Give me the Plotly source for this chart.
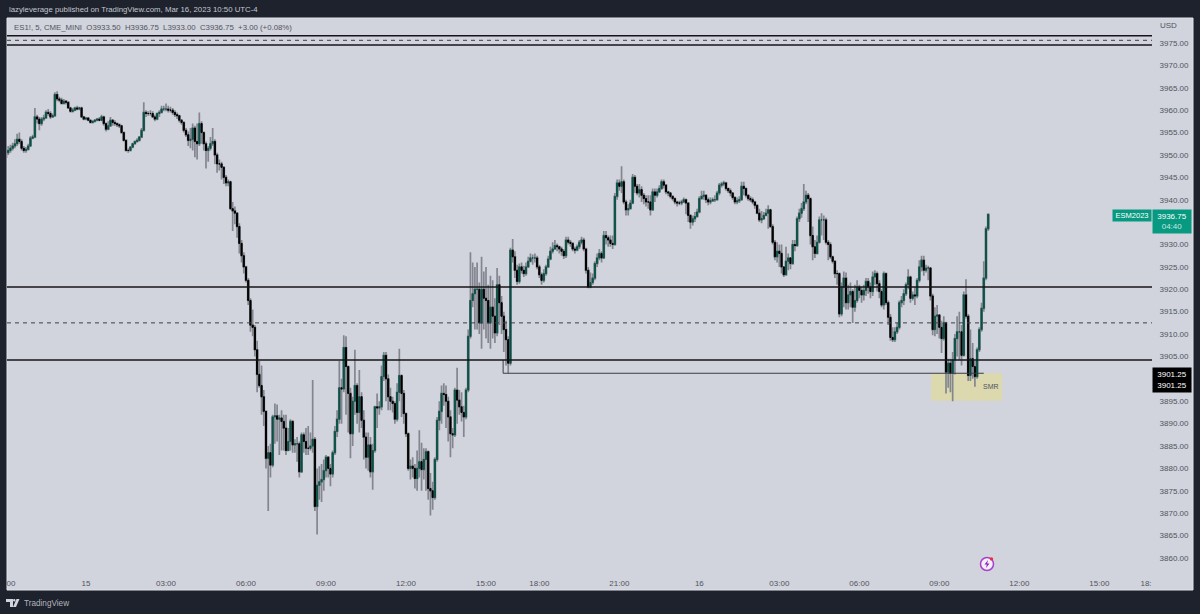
import plotly.graph_objects as go

# ES1! 5 min bars, 21:00 Mar 14 to 10:50 Mar 16 (one row per hour)
opens = [
    3949.5,3950.5,3951,3951.5,3952,3952.5,3953.5,3953,3951.5,3951,3951.25,3952,
    3953.75,3954,3958.5,3958,3957,3958,3958.25,3959.5,3959.25,3958.5,3958.75,3963.5,
    3962.5,3962.25,3961.5,3962,3961.75,3960.5,3959.75,3960,3960.5,3960.25,3960.5,3958.5,
    3958,3958.25,3957.75,3957.25,3957.5,3957.75,3958,3957.75,3958.5,3957,3955.75,3956.5,
    3957.75,3957.25,3957,3956.75,3956.5,3955,3953.25,3951,3951,3951.75,3952.5,3953,
    3953.25,3954,3955.5,3959.5,3959.25,3959.25,3959.25,3958.5,3958,3959.25,3959.5,3960.25,
    3960.25,3960.25,3960,3960,3959.5,3959,3958.75,3957.75,3957.25,3955.5,3954.5,3953.25,
    3953.5,3956,3953,3952.5,3957,3955,3952.5,3951,3951.5,3952.5,3953,3950,
    3948,3948,3947.25,3945,3943.75,3944,3938,3937.5,3937,3934,3930.25,3927.5,
    3925,3922,3917.5,3912,3911.5,3906.5,3901,3898.5,3896,3892.75,3882.25,3883.5,
    3880.75,3891.5,3891.75,3891,3891.25,3890.5,3889,3884,3886,3890.5,3885.25,3885.5,
    3885.5,3879.25,3887.5,3886,3884.5,3884.5,3885,3886.5,3871.5,3876.25,3877,3877.5,
    3879.5,3882.5,3880,3878.75,3883.5,3888.25,3891,3898,3897.75,3907,3902.75,3896.75,
    3887.75,3895,3898.5,3892.5,3896,3890.75,3887,3882.5,3885.25,3879.25,3884,3893.75,
    3893.5,3893.75,3900.5,3905.25,3900,3896,3895,3894.5,3891,3897,3900.75,3896.75,
    3892.25,3887.75,3880,3880.5,3880,3877.75,3880,3881.5,3879.75,3882,3883.75,3875.5,
    3875,3873.5,3882,3890.75,3892.75,3896.75,3896.5,3895,3891.5,3887.75,3887.5,3897.5,
    3895.25,3893.75,3892.5,3891.5,3897.5,3909.5,3917.5,3919,3920,3920,3912.5,3920,
    3918,3917.5,3912.5,3916,3914,3910.25,3921,3917,3914,3911,3908.75,3903.5,
    3928.75,3927.25,3924.25,3921.75,3925,3924.25,3923.5,3925,3926.25,3927,3927,3927,
    3925,3923.25,3922,3923.5,3925,3926.75,3928.5,3929,3929.75,3929.5,3929,3928.5,
    3927.5,3931,3930.5,3930.25,3929,3928.75,3929.5,3930.5,3931,3929,3924.25,3920.5,
    3921.5,3922.5,3925.75,3927,3928,3927,3932,3931.5,3931,3930.25,3930,3940.75,
    3943.75,3943,3944,3939.5,3937.75,3938,3939.25,3945,3943,3941.5,3942.25,3941,
    3940.25,3939.5,3939.5,3937.75,3941.75,3941,3941.75,3942.5,3944,3943.25,3941.75,3941.5,
    3940.75,3940.25,3939.5,3939.25,3939.25,3939.5,3940,3939.25,3936.5,3935,3935.75,3936.25,
    3937.25,3940.25,3940.75,3941,3940,3939.5,3939.75,3940,3940,3941.5,3943.25,3943.5,
    3943.75,3942.5,3942,3941.5,3940.5,3939.5,3939.75,3940,3943,3942.5,3941,3940.25,
    3940,3939.5,3938.75,3937,3935.5,3935.75,3936.5,3937,3937.75,3934,3930.5,3927.25,
    3928.5,3928,3925,3923.25,3926.25,3927,3925.75,3930,3929.75,3935.75,3937,3938,
    3939.5,3941,3940.25,3932,3929.5,3928,3930.5,3935.5,3935.5,3935.5,3930.5,3930,
    3927.25,3926.25,3923.5,3923.5,3914.5,3920.5,3922.5,3917,3918.75,3919.5,3916,3917.5,
    3920.5,3919.75,3918.75,3919.75,3921.75,3920.5,3919.5,3922.75,3923.5,3921.25,3919.5,3916.5,
    3923.5,3917,3913.75,3909.25,3908.75,3910.5,3911.5,3917,3917.5,3919,3921,3922.75,
    3918,3918.75,3918.5,3922,3925,3926.5,3924.25,3924.75,3924.75,3918.5,3911,3914,
    3914.25,3911.5,3909,3912.5,3901.5,3903.5,3901.25,3904.25,3909,3910.5,3910.5,3905.25,
    3918.75,3914,3900.75,3904.5,3902.75,3900.5,3906.5,3911,3915.75,3922.5,3933.5,
]
highs = [
    3951.5,3952,3952.25,3952.75,3953.5,3954.75,3955,3953.5,3952,3951.75,3952.5,3954.25,
    3954.5,3960.5,3959,3958.5,3958.5,3959,3960,3960.25,3959.75,3959.25,3964,3964.25,
    3963,3962.75,3962.5,3962.25,3962,3960.75,3960.5,3960.75,3961,3960.75,3960.75,3958.75,
    3958.5,3958.5,3957.75,3957.75,3958,3958.25,3958.5,3959,3958.75,3957.25,3957.5,3958.5,
    3958,3957.75,3957.25,3957,3956.75,3955.25,3953.5,3951.5,3952,3952.75,3953.25,3953.75,
    3954.25,3956,3961.75,3960,3959.75,3960,3959.75,3959,3959.5,3960,3961,3961,
    3961.5,3961,3960.75,3960.5,3960,3959.5,3959,3958,3957.5,3956,3955.25,3956,
    3957,3956.5,3957,3959.5,3957.5,3955.25,3953,3952,3954,3956,3953.5,3950.5,
    3949,3948.5,3947.5,3945.5,3944.5,3944.25,3939.5,3938.5,3937.25,3934.75,3931,3928.25,
    3925.25,3922.5,3918,3915.5,3912,3908.5,3904,3903,3897.5,3892.75,3885,3885.5,
    3892,3894.5,3894.25,3892,3893,3892,3892,3889,3891,3890.75,3886.5,3887,
    3886,3888,3888,3889,3889.5,3888,3899.75,3887,3880,3880.5,3881,3882,
    3883,3882.75,3881,3884,3889.5,3893,3904,3900,3909.75,3909.5,3903,3898,
    3896,3906.5,3899,3902,3897,3893,3888,3888,3887,3885.5,3894,3896.75,
    3895,3903,3906,3906,3901,3898,3896,3895,3899,3906.75,3901,3897.5,
    3892.5,3888,3882,3882.5,3881,3884,3888.5,3885.75,3884.5,3884.5,3884,3879,
    3877,3882.5,3891.5,3895,3898.5,3899,3898.5,3896,3893,3889,3898,3902.5,
    3897.5,3897,3894,3898,3911,3928.25,3926,3925,3926,3921.5,3927.25,3924,
    3925,3921,3923,3922,3918,3924.75,3923,3918.5,3915,3913,3909.5,3929.25,
    3931.25,3928.5,3925.5,3925.75,3926,3925.25,3926,3927.25,3928,3927.75,3928,3927.5,
    3925.5,3923.75,3924.5,3925.5,3927.5,3929.5,3930.5,3931,3930.25,3929.75,3929.5,3929,
    3931.75,3931.75,3931,3930.5,3929.5,3930,3931,3931.75,3931.5,3929.25,3925,3923.75,
    3923.5,3926.25,3928,3929,3928.5,3933,3933,3932,3932,3932,3941.5,3944.5,
    3944.5,3947.5,3944.5,3940,3939,3940,3945.75,3945.5,3943.5,3943.5,3943,3941.5,
    3941,3941,3941,3942.5,3942.5,3942.5,3943.25,3944.5,3944.5,3943.5,3942,3941.75,
    3941,3940.5,3939.75,3939.75,3940,3940.5,3940.25,3939.5,3936.75,3936.5,3937.25,3938,
    3940.75,3942,3942,3941.25,3940.5,3940.5,3940.5,3941,3942,3943.75,3944,3944.25,
    3944,3942.75,3942.5,3941.75,3940.75,3940.5,3940.75,3944,3944,3942.75,3941.25,3940.75,
    3940.5,3939.75,3939,3938,3937.5,3937.25,3938,3938.75,3938,3934.5,3931,3930.5,
    3930,3930,3924.5,3929.5,3928,3926.5,3931,3931,3936.25,3938,3939.25,3943.5,
    3942,3941.5,3940.5,3934,3931,3932,3936.25,3937,3936.5,3936,3931,3930.5,
    3927.5,3926.5,3924.25,3923.75,3921.5,3924,3923.75,3921,3921.5,3920,3921,3922,
    3921,3920.5,3921,3922.5,3922.5,3921.5,3924,3924.25,3924,3922,3920,3924,
    3923.75,3917.5,3914.5,3911.5,3911.5,3912.5,3917.5,3918.5,3920,3921.5,3924.5,3923,
    3919.5,3920.5,3922.5,3926.5,3927.5,3927.5,3925.5,3925.25,3925,3919,3916,3916.5,
    3914.5,3913,3914,3912.75,3904.5,3904.5,3906,3910,3914,3915,3912,3919.5,
    3922.25,3914.5,3911,3908,3904,3907,3911.5,3917,3926.25,3934,3936.75,
]
lows = [
    3948,3950,3950.5,3951,3951.5,3952,3952.5,3951,3950.5,3950.5,3951,3951.75,
    3953.5,3953.75,3957,3955.5,3956.5,3957.5,3958,3958.75,3958,3958.25,3958.5,3962,
    3961.75,3961.25,3961.25,3961.25,3960.25,3959.5,3959.5,3959.75,3960,3960,3958.25,3957.75,
    3957.75,3957.5,3957,3957,3957.25,3957.5,3957.5,3957.5,3956.5,3955.25,3955.5,3956.25,
    3956.5,3956.5,3956.25,3956,3954.75,3953,3950.75,3950.5,3950.75,3951.5,3952.25,3952.75,
    3953,3953.75,3955.25,3958.5,3958.75,3958.75,3958.25,3957.5,3957.75,3958.5,3959.25,3959.75,
    3959.75,3959.5,3959.5,3959,3958.5,3958,3957.25,3956.75,3955,3954,3952,3951.5,
    3951,3949.5,3949,3952,3952.5,3951,3947,3948.5,3951,3952,3948,3946,
    3946.5,3944.5,3943.5,3943,3943,3937.75,3933,3934.5,3931.5,3928,3926,3923.5,
    3921.5,3916.5,3910.5,3909.5,3905,3897,3898,3892,3889.5,3880,3870.5,3878,
    3880.25,3885.5,3886,3883,3884,3884,3883,3884,3884,3883.5,3883.5,3881.5,
    3878,3879,3883.5,3883,3883,3884,3883.5,3870.5,3865.25,3873,3872.5,3875,
    3878,3878,3876,3878,3883,3887,3890,3890,3897,3892,3888,3882.25,
    3885,3892,3890,3888,3889,3882,3880,3879.5,3878,3875.25,3883.5,3889,
    3892,3893,3899.5,3895,3893,3893,3892.5,3890,3890.5,3895,3891.5,3890,
    3887,3879.5,3877.5,3878,3875.5,3875,3878,3875,3877.5,3875,3873,3869.5,
    3870.75,3873,3881.5,3888.5,3890,3894,3889,3886,3882.5,3884.5,3887,3890,
    3892,3890.5,3887,3891,3897,3909,3916,3911,3911,3910,3906.75,3911,
    3909,3908,3906.75,3909,3908,3909.5,3912,3910,3906,3903,3901.25,3903,
    3926,3922.5,3921,3921.25,3923.5,3922.75,3923,3924.75,3926,3925.5,3926,3924.5,
    3922.5,3921,3921.5,3923,3924.75,3926.5,3928,3928.75,3928.5,3928,3927.5,3926.75,
    3927,3930,3929.5,3928.5,3928,3928.5,3929,3930,3928.5,3923.5,3920.25,3920.25,
    3921,3922,3925,3926.5,3926,3926.75,3930,3929.5,3929.5,3929,3929.75,3940,
    3942,3941.5,3939,3936.5,3936.5,3938.5,3939,3941.5,3941,3940.5,3939.5,3939,
    3938.5,3938,3936.5,3937.5,3939.5,3940.5,3941.5,3942.25,3942.5,3941.25,3940.75,3940.25,
    3939.75,3939,3938.5,3938.75,3938.75,3939.25,3936.75,3935,3933.5,3934.25,3935,3936,
    3937,3940,3940,3939.25,3938.75,3939,3939.5,3939.5,3939.75,3941,3942.75,3943,
    3942,3941.5,3940.75,3940,3939,3939,3939.25,3939.75,3941,3940.5,3939.75,3939.5,
    3939,3938,3936.75,3935,3934.75,3935.5,3936.5,3933.5,3933.75,3930,3926.5,3926,
    3925,3923.5,3922.75,3923,3924.25,3924.5,3925.5,3928.5,3929.5,3935,3936,3937.5,
    3939,3935,3930,3926.5,3927,3927.75,3930.25,3932,3931,3930,3926.5,3926.75,
    3925.75,3922.5,3921,3913.75,3914,3916,3915.5,3915.5,3916,3912.5,3915,3917,
    3918,3917,3917.5,3918.5,3919,3918,3918.5,3921,3919.5,3918,3916,3915.5,
    3916.5,3912,3908.5,3908.25,3908.25,3910,3911,3916,3916.5,3918.5,3920,3917,
    3917.5,3916.5,3918,3921.5,3924,3923,3923.75,3922,3917.5,3909.75,3909.5,3910,
    3909,3905.75,3908.5,3896.75,3898,3897,3895,3901,3905,3904.25,3903,3905,
    3913.5,3899.5,3899.5,3900,3898.25,3900,3906,3910.5,3915,3922,3933,
]
closes = [
    3950.5,3951,3951.5,3952,3952.5,3953.5,3953,3951.5,3951,3951.25,3952,3953.75,
    3954,3958.5,3958,3957,3958,3958.25,3959.5,3959.25,3958.5,3958.75,3963.5,3962.5,
    3962.25,3961.5,3962,3961.75,3960.5,3959.75,3960,3960.5,3960.25,3960.5,3958.5,3958,
    3958.25,3957.75,3957.25,3957.5,3957.75,3958,3957.75,3958.5,3957,3955.75,3956.5,3957.75,
    3957.25,3957,3956.75,3956.5,3955,3953.25,3951,3951,3951.75,3952.5,3953,3953.25,
    3954,3955.5,3959.5,3959.25,3959.25,3959.25,3958.5,3958,3959.25,3959.5,3960.25,3960.25,
    3960.25,3960,3960,3959.5,3959,3958.75,3957.75,3957.25,3955.5,3954.5,3953.25,3953.5,
    3956,3953,3952.5,3957,3955,3952.5,3951,3951.5,3952.5,3953,3950,3948,
    3948,3947.25,3945,3943.75,3944,3938,3937.5,3937,3934,3930.25,3927.5,3925,
    3922,3917.5,3912,3911.5,3906.5,3901,3898.5,3896,3892.75,3882.25,3883.5,3880.75,
    3891.5,3891.75,3891,3891.25,3890.5,3889,3884,3886,3890.5,3885.25,3885.5,3885.5,
    3879.25,3887.5,3886,3884.5,3884.5,3885,3886.5,3871.5,3876.25,3877,3877.5,3879.5,
    3882.5,3880,3878.75,3883.5,3888.25,3891,3898,3897.75,3907,3902.75,3896.75,3887.75,
    3895,3898.5,3892.5,3896,3890.75,3887,3882.5,3885.25,3879.25,3884,3893.75,3893.5,
    3893.75,3900.5,3905.25,3900,3896,3895,3894.5,3891,3897,3900.75,3896.75,3892.25,
    3887.75,3880,3880.5,3880,3877.75,3880,3881.5,3879.75,3882,3883.75,3875.5,3875,
    3873.5,3882,3890.75,3892.75,3896.75,3896.5,3895,3891.5,3887.75,3887.5,3897.5,3895.25,
    3893.75,3892.5,3891.5,3897.5,3909.5,3917.5,3919,3920,3920,3912.5,3920,3918,
    3917.5,3912.5,3916,3914,3910.25,3921,3917,3914,3911,3908.75,3903.5,3928.75,
    3927.25,3924.25,3921.75,3925,3924.25,3923.5,3925,3926.25,3927,3927,3927,3925,
    3923.25,3922,3923.5,3925,3926.75,3928.5,3929,3929.75,3929.5,3929,3928.5,3927.5,
    3931,3930.5,3930.25,3929,3928.75,3929.5,3930.5,3931,3929,3924.25,3920.5,3921.5,
    3922.5,3925.75,3927,3928,3927,3932,3931.5,3931,3930.25,3930,3940.75,3943.75,
    3943,3944,3939.5,3937.75,3938,3939.25,3945,3943,3941.5,3942.25,3941,3940.25,
    3939.5,3939.5,3937.75,3941.75,3941,3941.75,3942.5,3944,3943.25,3941.75,3941.5,3940.75,
    3940.25,3939.5,3939.25,3939.25,3939.5,3940,3939.25,3936.5,3935,3935.75,3936.25,3937.25,
    3940.25,3940.75,3941,3940,3939.5,3939.75,3940,3940,3941.5,3943.25,3943.5,3943.75,
    3942.5,3942,3941.5,3940.5,3939.5,3939.75,3940,3943,3942.5,3941,3940.25,3940,
    3939.5,3938.75,3937,3935.5,3935.75,3936.5,3937,3937.75,3934,3930.5,3927.25,3928.5,
    3928,3925,3923.25,3926.25,3927,3925.75,3930,3929.75,3935.75,3937,3938,3939.5,
    3941,3940.25,3932,3929.5,3928,3930.5,3935.5,3935.5,3935.5,3930.5,3930,3927.25,
    3926.25,3923.5,3923.5,3914.5,3920.5,3922.5,3917,3918.75,3919.5,3916,3917.5,3920.5,
    3919.75,3918.75,3919.75,3921.75,3920.5,3919.5,3922.75,3923.5,3921.25,3919.5,3916.5,3923.5,
    3917,3913.75,3909.25,3908.75,3910.5,3911.5,3917,3917.5,3919,3921,3922.75,3918,
    3918.75,3918.5,3922,3925,3926.5,3924.25,3924.75,3924.75,3918.5,3911,3914,3914.25,
    3911.5,3909,3912.5,3901.5,3903.5,3901.25,3904.25,3909,3910.5,3910.5,3905.25,3918.75,
    3914,3900.75,3904.5,3902.75,3900.5,3906.5,3911,3915.75,3922.5,3933.5,3936.75,
]
bars = list(range(len(closes)))

# the time scale counts bars, the session break 17:00-18:00 has none
time_ticks = [2.2, 36, 72, 108, 144, 180, 216, 240, 276, 312, 348, 384, 420, 456, 492, 513]
time_labels = ["00", "15", "03:00", "06:00", "09:00", "12:00", "15:00", "18:00", "21:00", "16",
               "03:00", "06:00", "09:00", "12:00", "15:00", "18:"]
price_ticks = [p for p in range(3860, 3980, 5) if p not in (3900, 3935)]

solid_levels = [3976.6, 3974.55, 3920.5, 3904.2]
dashed_levels = [3975.6, 3912.5]

PANE = "#d1d4dc"
FRAME = "#1e222d"
TEXT = "#50535e"
LEFT, RIGHT, TOP, BOTTOM = 7, 1152, 18, 572


def px(x):
    return (x - LEFT) / (RIGHT - LEFT)


def py(y):
    return (BOTTOM - y) / (BOTTOM - TOP)


def paper_shape(kind, x0, y0, x1, y1, **kw):
    return dict(type=kind, xref="paper", yref="paper", x0=px(x0), x1=px(x1), y0=py(y0), y1=py(y1), **kw)


def paper_path(points, **kw):
    d = "M" + " L".join(f"{px(x):.5f},{py(y):.5f}" for x, y in points) + " Z"
    return dict(type="path", xref="paper", yref="paper", path=d, **kw)


def label(text, x, y, color=TEXT, size=7.8, anchor="left"):
    return dict(text=text, xref="paper", yref="paper", x=px(x), y=py(y), xanchor=anchor, yanchor="middle",
                showarrow=False, font=dict(color=color, size=size))


fig = go.Figure()

# wicks first, in grey, then the bodies on top
fig.add_trace(go.Candlestick(
    x=bars, open=opens, high=highs, low=lows, close=closes, whiskerwidth=0,
    increasing=dict(line=dict(color="#83868f", width=1.7), fillcolor="#83868f"),
    decreasing=dict(line=dict(color="#83868f", width=1.7), fillcolor="#83868f"),
    hoverinfo="skip", showlegend=False,
))
fig.add_trace(go.Candlestick(
    x=bars, open=opens, close=closes, whiskerwidth=0,
    high=[max(o, c) for o, c in zip(opens, closes)],
    low=[min(o, c) for o, c in zip(opens, closes)],
    increasing=dict(line=dict(color="#0c5348", width=1), fillcolor="#00473c"),
    decreasing=dict(line=dict(color="#000000", width=1), fillcolor="#000000"),
    showlegend=False,
))

shapes = [
    paper_shape("rect", LEFT, TOP, 1193, 590, fillcolor=PANE, line=dict(color="#e0e3eb", width=1), layer="below"),
    dict(type="rect", xref="x", yref="y", x0=416.3, x1=448.3, y0=3895.1, y1=3901.25,
         fillcolor="#dcd9ae", line=dict(width=0), layer="below"),
    dict(type="line", xref="x", yref="y", x0=223.7, x1=440, y0=3901.25, y1=3901.25,
         line=dict(color="#3a3d45", width=1)),
    dict(type="line", xref="x", yref="y", x0=223.7, x1=223.7, y0=3901.25, y1=3904.2,
         line=dict(color="#3a3d45", width=1)),
    # TradingView logo
    paper_path([(6, 599), (13, 599), (13, 607), (10, 607), (10, 602), (6, 602)], fillcolor="#d1d4dc", line=dict(width=0)),
    paper_shape("circle", 13, 599, 15.5, 601.5, fillcolor="#d1d4dc", line=dict(width=0)),
    paper_path([(16.5, 599), (19.5, 599), (16, 607), (13, 607)], fillcolor="#d1d4dc", line=dict(width=0)),
    # alert badge
    paper_shape("circle", 980.5, 557.5, 993.5, 570.5, fillcolor="#f4f0f8", line=dict(color="#a93fd0", width=1.5)),
    paper_path([(988, 560), (984.5, 564.5), (986.8, 564.5), (986, 568), (989.5, 563.5), (987.2, 563.5)],
               fillcolor="#8e24c0", line=dict(width=0)),
    paper_shape("circle", 989.8, 557.2, 993.2, 560.6, fillcolor="#f02c3c", line=dict(width=0)),
]
for level in solid_levels:
    shapes.append(dict(type="line", xref="paper", yref="y", x0=0, x1=1, y0=level, y1=level,
                       line=dict(color="#141518", width=1.6)))
for level in dashed_levels:
    shapes.append(dict(type="line", xref="paper", yref="y", x0=0, x1=1, y0=level, y1=level,
                       line=dict(color="#3a3d45", width=1, dash="4px,4px")))

annotations = [
    label("lazyleverage published on TradingView.com, Mar 16, 2023 10:50 UTC-4", 7, 9.5, color="#c3c6ce"),
    label("ES1!, 5, CME_MINI&nbsp;&nbsp;O3933.50&nbsp;&nbsp;H3936.75&nbsp;&nbsp;L3933.00&nbsp;&nbsp;C3936.75&nbsp;&nbsp;+3.00 (+0.08%)",
          12, 27),
    label("USD", 1158, 26, size=8),
    label("TradingView", 22, 603, color="#b2b5be", size=8.2),
    dict(text="SMR", xref="x", yref="y", x=443.3, y=3898.2, showarrow=False, font=dict(color=TEXT, size=7)),
    dict(text="ESM2023", xref="paper", yref="y", x=1, y=3937.9, xanchor="right", yanchor="top", showarrow=False,
         width=38, height=11, borderpad=0, bgcolor="#089981", font=dict(color="#ffffff", size=7.5)),
    dict(text='3936.75<br><span style="color:#c5e8e0">04:40</span>', xref="paper", yref="y", x=1, y=3937.9,
         xanchor="left", yanchor="top", showarrow=False, width=38, height=23, borderpad=0, bgcolor="#089981",
         font=dict(color="#ffffff", size=8)),
    dict(text="3901.25<br>3901.25", xref="paper", yref="y", x=1, y=3902.65,
         xanchor="left", yanchor="top", showarrow=False, width=38, height=24, borderpad=0, bgcolor="#000000",
         font=dict(color="#ffffff", size=8)),
]

fig.update_layout(
    width=1200, height=614,
    margin=dict(l=LEFT, r=1200 - RIGHT, t=TOP, b=614 - BOTTOM, autoexpand=False),
    paper_bgcolor=FRAME, plot_bgcolor="rgba(0,0,0,0)",
    font=dict(family="Liberation Sans, Arial, sans-serif", size=8, color=TEXT),
    shapes=shapes, annotations=annotations, showlegend=False,
    xaxis=dict(range=[0.45, 515.7], rangeslider=dict(visible=False), showgrid=False, zeroline=False,
               tickmode="array", tickvals=time_ticks, ticktext=time_labels, ticks="outside",
               ticklen=3, tickcolor=PANE, tickfont=dict(size=8, color=TEXT)),
    yaxis=dict(range=[3856.87, 3980.58], side="right", showgrid=False, zeroline=False,
               tickmode="array", tickvals=price_ticks, ticktext=[f"{p}.00" for p in price_ticks],
               ticks="outside", ticklen=5, tickcolor=PANE, tickfont=dict(size=8, color=TEXT)),
)

# the page's default body margin would push the figure 8px off
fig.write_html("out.html", config=dict(displayModeBar=False), post_script="document.body.style.margin='0';")
